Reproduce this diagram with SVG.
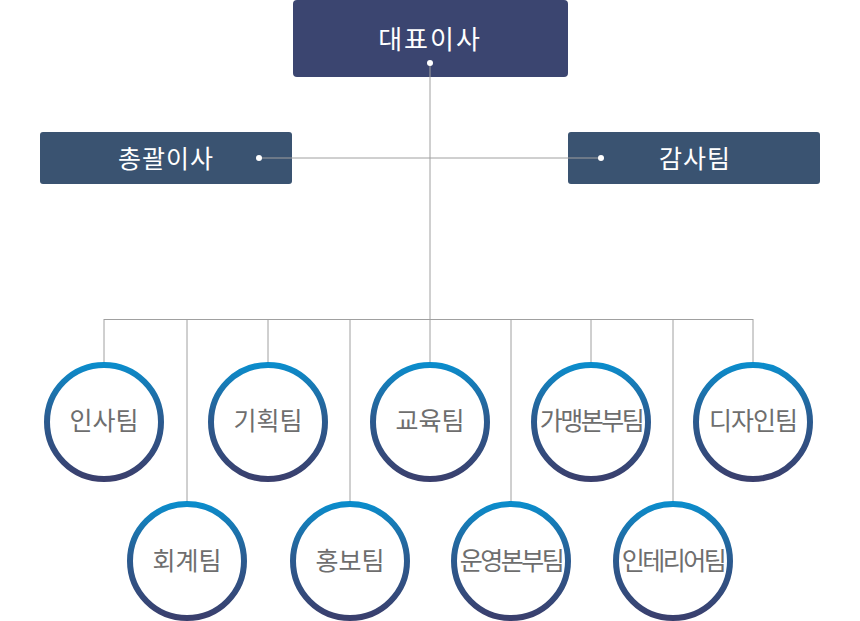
<svg xmlns="http://www.w3.org/2000/svg" width="860" height="621" viewBox="0 0 860 621">
<defs>
<linearGradient id="ring" x1="0" y1="0" x2="0" y2="1">
<stop offset="0" stop-color="#0b8ccb"/>
<stop offset="0.45" stop-color="#2a5d92"/>
<stop offset="1" stop-color="#3a3f6d"/>
</linearGradient>
</defs>
<style>
.box text{font-family:"Noto Sans CJK KR","Noto Sans",sans-serif;fill:#fff;text-anchor:middle}
.team circle{fill:#fff;stroke:url(#ring);stroke-width:6}
.team text{font-family:"Noto Sans CJK KR","Noto Sans",sans-serif;fill:#6e6e6e;font-size:25px;text-anchor:middle}
.conn line{stroke:#a0a0a0;stroke-width:1}
.dot{fill:#fff}
</style>
<rect width="860" height="621" fill="#fff"/>
<g id="ceo" class="box">
<rect x="293" y="0" width="275" height="77" rx="4" fill="#3b4570"/>
<text x="430" y="49" font-size="26" letter-spacing="2">대표이사</text>
</g>
<g id="gm" class="box">
<rect x="40" y="132" width="252" height="52" rx="3" fill="#3a5371"/>
<text x="166" y="168" font-size="25" letter-spacing="1">총괄이사</text>
</g>
<g id="audit" class="box">
<rect x="568" y="132" width="252" height="52" rx="3" fill="#3a5371"/>
<text x="695" y="168" font-size="25" letter-spacing="1">감사팀</text>
</g>
<g class="conn">
<line x1="430" y1="63" x2="430" y2="320"/>
<line x1="259" y1="158" x2="601" y2="158"/>
<line x1="103.5" y1="319.5" x2="753.5" y2="319.5"/>
<line x1="104" y1="320" x2="104" y2="364"/>
<line x1="187" y1="320" x2="187" y2="503"/>
<line x1="268" y1="320" x2="268" y2="364"/>
<line x1="350" y1="320" x2="350" y2="503"/>
<line x1="430" y1="320" x2="430" y2="364"/>
<line x1="511" y1="320" x2="511" y2="503"/>
<line x1="591" y1="320" x2="591" y2="364"/>
<line x1="673" y1="320" x2="673" y2="503"/>
<line x1="753" y1="320" x2="753" y2="364"/>
<circle class="dot" cx="430" cy="63" r="3"/>
<circle class="dot" cx="259" cy="158" r="3"/>
<circle class="dot" cx="601" cy="158" r="3"/>
</g>
<g id="t1" class="team"><circle cx="104" cy="422" r="57"/><text x="104" y="430">인사팀</text></g>
<g id="t2" class="team"><circle cx="268" cy="422" r="57"/><text x="268" y="430">기획팀</text></g>
<g id="t3" class="team"><circle cx="430" cy="422" r="57"/><text x="430" y="430">교육팀</text></g>
<g id="t4" class="team"><circle cx="591" cy="422" r="57"/><text x="591" y="430" letter-spacing="-2.5">가맹본부팀</text></g>
<g id="t5" class="team"><circle cx="753" cy="422" r="57"/><text x="753" y="430" letter-spacing="-1">디자인팀</text></g>
<g id="t6" class="team"><circle cx="187" cy="561" r="57"/><text x="187" y="570">회계팀</text></g>
<g id="t7" class="team"><circle cx="350" cy="561" r="57"/><text x="350" y="570">홍보팀</text></g>
<g id="t8" class="team"><circle cx="511" cy="561" r="57"/><text x="511" y="570" letter-spacing="-2.5">운영본부팀</text></g>
<g id="t9" class="team"><circle cx="673" cy="561" r="57"/><text x="673" y="570" letter-spacing="-2.5">인테리어팀</text></g>
</svg>
